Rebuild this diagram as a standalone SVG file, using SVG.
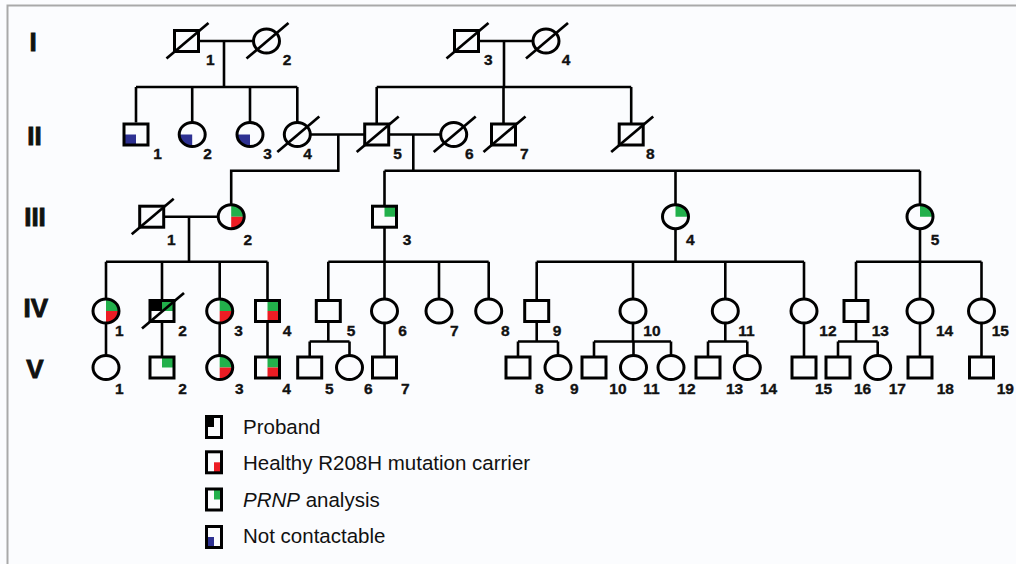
<svg xmlns="http://www.w3.org/2000/svg" width="1016" height="564" viewBox="0 0 1016 564">
<style>
.bg{fill:#fbfcfe}
.frame{stroke:#a9a9a9;stroke-width:2;fill:none}
.sym{fill:none;stroke:#000;stroke-width:3}
.ln{fill:none;stroke:#000;stroke-width:2.6}
.sl{stroke:#000;stroke-width:2.7}
.num{font-family:"Liberation Sans",Arial,sans-serif;font-weight:bold;font-size:15.5px;fill:#111;stroke:#111;stroke-width:0.35}
.gen{font-family:"Liberation Sans",Arial,sans-serif;font-weight:bold;font-size:26px;fill:#111;text-anchor:middle;stroke:#111;stroke-width:0.9}
.leg{font-family:"Liberation Sans",Arial,sans-serif;font-size:20.5px;fill:#111}
.g{fill:#22b04b}.r{fill:#ec1c24}.b{fill:#2e3192}.k{fill:#000}
</style>
<rect class="bg" x="0" y="0" width="1016" height="564"/>
<path class="frame" d="M7.5,564 V5.5 H1016"/>

<g id="generations">
<text class="gen" x="33.2" y="50.7">I</text>
<text class="gen" x="34.5" y="145">II</text>
<text class="gen" x="35" y="226">III</text>
<text class="gen" x="35.8" y="316.7">IV</text>
<text class="gen" x="35" y="377.7">V</text>
</g>

<g id="connectors" class="ln">
<path d="M198.5,41 H253.5 M224,41 V87 M136,87 H297.3 M136,87 V122.5 M192.2,87 V122.5 M250,87 V122.5 M297.3,87 V122.5"/>
<path d="M478.5,41 H533 M504,41 V87 M376.7,87 H631.2 M376.7,87 V124 M503.5,87 V124 M631.2,87 V124"/>
<path d="M310.3,134.5 H364.7 M338.3,134.5 V170.7 H231.2 V204.7"/>
<path d="M388.7,134.5 H440.7 M413.3,134.5 V170.7 M384.5,170.7 H920 M384.5,170.7 V206.2 M675.5,170.7 V204.7 M920,170.7 V204.7"/>
<path d="M163.7,216.7 H218.2 M189,216.7 V261.7 M106,261.7 H267.5 M106,261.7 V299 M162,261.7 V300.5 M219.7,261.7 V299 M267.5,261.7 V300.5"/>
<path d="M384.5,227.2 V261.7 M328.3,261.7 H488.7 M328.3,261.7 V300.5 M384.5,261.7 V299 M439,261.7 V299 M488.7,261.7 V299"/>
<path d="M675.5,228.7 V261.7 M536.7,261.7 H804 M536.7,261.7 V300.5 M633,261.7 V299 M725.3,261.7 V299 M804,261.7 V299"/>
<path d="M920,228.7 V261.7 M856,261.7 H981.5 M856,261.7 V300.5 M920,261.7 V299 M981.5,261.7 V299"/>
<path d="M106,323 V355.5 M162,321.5 V357 M219.7,323 V355.5 M267.5,321.5 V357"/>
<path d="M328.3,321.5 V341.5 M309.7,341.5 H349.5 M309.7,341.5 V357 M349.5,341.5 V355.5 M384.5,323 V357"/>
<path d="M536.7,321.5 V341.5 M518,341.5 H558 M518,341.5 V357 M558,341.5 V355.5"/>
<path d="M633,323 V341.5 M594,341.5 H671 M594,341.5 V357 M633.5,341.5 V355.5 M671,341.5 V355.5"/>
<path d="M725.3,323 V341.5 M708,341.5 H747.3 M708,341.5 V357 M747.3,341.5 V355.5 M804,323 V357"/>
<path d="M856,321.5 V341.5 M838,341.5 H877.7 M838,341.5 V357 M877.7,341.5 V355.5 M920,323 V357 M981.5,323 V357"/>
</g>

<g id="I-1"><rect class="sym" x="174.5" y="30.5" width="24" height="21"/><line class="sl" x1="166.5" y1="58.5" x2="208.5" y2="23"/><text class="num" x="206" y="65">1</text></g>
<g id="I-2"><ellipse class="sym" cx="266.5" cy="41" rx="13" ry="12"/><line class="sl" x1="246.5" y1="58.5" x2="288.5" y2="23"/><text class="num" x="282.7" y="65">2</text></g>
<g id="I-3"><rect class="sym" x="454.5" y="30.5" width="24" height="21"/><line class="sl" x1="446.5" y1="58.5" x2="488.5" y2="23"/><text class="num" x="484" y="65">3</text></g>
<g id="I-4"><ellipse class="sym" cx="546" cy="41" rx="13" ry="12"/><line class="sl" x1="526" y1="58.5" x2="568" y2="23"/><text class="num" x="561.7" y="65">4</text></g>

<g id="II-1"><rect class="b" x="124" y="134.5" width="12" height="10.5"/><rect class="sym" x="124" y="124" width="24" height="21"/><text class="num" x="153.3" y="159.3">1</text></g>
<g id="II-2"><path class="b" d="M192.2,134.5 V146.5 A13,12 0 0 1 179.2,134.5 Z"/><ellipse class="sym" cx="192.2" cy="134.5" rx="13" ry="12"/><text class="num" x="203.3" y="159.3">2</text></g>
<g id="II-3"><path class="b" d="M250,134.5 V146.5 A13,12 0 0 1 237,134.5 Z"/><ellipse class="sym" cx="250" cy="134.5" rx="13" ry="12"/><text class="num" x="263.3" y="159.3">3</text></g>
<g id="II-4"><ellipse class="sym" cx="297.3" cy="134.5" rx="13" ry="12"/><line class="sl" x1="277.3" y1="152" x2="319.3" y2="116.5"/><text class="num" x="303.3" y="159.3">4</text></g>
<g id="II-5"><rect class="sym" x="364.7" y="124" width="24" height="21"/><line class="sl" x1="356.7" y1="152" x2="398.7" y2="116.5"/><text class="num" x="393.3" y="159.3">5</text></g>
<g id="II-6"><ellipse class="sym" cx="453.7" cy="134.5" rx="13" ry="12"/><line class="sl" x1="433.7" y1="152" x2="475.7" y2="116.5"/><text class="num" x="465" y="159.3">6</text></g>
<g id="II-7"><rect class="sym" x="491.5" y="124" width="24" height="21"/><line class="sl" x1="483.5" y1="152" x2="525.5" y2="116.5"/><text class="num" x="520" y="159.3">7</text></g>
<g id="II-8"><rect class="sym" x="619.2" y="124" width="24" height="21"/><line class="sl" x1="611.2" y1="152" x2="653.2" y2="116.5"/><text class="num" x="646" y="159.3">8</text></g>

<g id="III-1"><rect class="sym" x="139.7" y="206.2" width="24" height="21"/><line class="sl" x1="131.7" y1="234.2" x2="173.7" y2="198.7"/><text class="num" x="167" y="245">1</text></g>
<g id="III-2"><path class="g" d="M231.2,216.7 V204.7 A13,12 0 0 1 244.2,216.7 Z"/><path class="r" d="M231.2,216.7 H244.2 A13,12 0 0 1 231.2,228.7 Z"/><ellipse class="sym" cx="231.2" cy="216.7" rx="13" ry="12"/><text class="num" x="243.5" y="245">2</text></g>
<g id="III-3"><rect class="g" x="384.5" y="206.2" width="12" height="10.5"/><rect class="sym" x="372.5" y="206.2" width="24" height="21"/><text class="num" x="402.7" y="245">3</text></g>
<g id="III-4"><path class="g" d="M675.5,216.7 V204.7 A13,12 0 0 1 688.5,216.7 Z"/><ellipse class="sym" cx="675.5" cy="216.7" rx="13" ry="12"/><text class="num" x="686" y="245">4</text></g>
<g id="III-5"><path class="g" d="M920,216.7 V204.7 A13,12 0 0 1 933,216.7 Z"/><ellipse class="sym" cx="920" cy="216.7" rx="13" ry="12"/><text class="num" x="930.7" y="245">5</text></g>

<g id="IV-1"><path class="g" d="M106,311 V299 A13,12 0 0 1 119,311 Z"/><path class="r" d="M106,311 H119 A13,12 0 0 1 106,323 Z"/><ellipse class="sym" cx="106" cy="311" rx="13" ry="12"/><text class="num" x="115" y="336">1</text></g>
<g id="IV-2"><rect class="k" x="150" y="300.5" width="12" height="10.5"/><rect class="g" x="162" y="300.5" width="12" height="10.5"/><rect class="sym" x="150" y="300.5" width="24" height="21"/><line class="sl" x1="142" y1="328.5" x2="184" y2="293"/><text class="num" x="178.3" y="336">2</text></g>
<g id="IV-3"><path class="g" d="M219.7,311 V299 A13,12 0 0 1 232.7,311 Z"/><path class="r" d="M219.7,311 H232.7 A13,12 0 0 1 219.7,323 Z"/><ellipse class="sym" cx="219.7" cy="311" rx="13" ry="12"/><text class="num" x="234.3" y="336">3</text></g>
<g id="IV-4"><rect class="g" x="267.5" y="300.5" width="12" height="10.5"/><rect class="r" x="267.5" y="311" width="12" height="10.5"/><rect class="sym" x="255.5" y="300.5" width="24" height="21"/><text class="num" x="282.7" y="336">4</text></g>
<g id="IV-5"><rect class="sym" x="316.3" y="300.5" width="24" height="21"/><text class="num" x="346.7" y="336">5</text></g>
<g id="IV-6"><ellipse class="sym" cx="384.5" cy="311" rx="13" ry="12"/><text class="num" x="398.3" y="336">6</text></g>
<g id="IV-7"><ellipse class="sym" cx="439" cy="311" rx="13" ry="12"/><text class="num" x="450" y="336">7</text></g>
<g id="IV-8"><ellipse class="sym" cx="488.7" cy="311" rx="13" ry="12"/><text class="num" x="501" y="336">8</text></g>
<g id="IV-9"><rect class="sym" x="524.7" y="300.5" width="24" height="21"/><text class="num" x="552.7" y="336">9</text></g>
<g id="IV-10"><ellipse class="sym" cx="633" cy="311" rx="13" ry="12"/><text class="num" x="643.3" y="336">10</text></g>
<g id="IV-11"><ellipse class="sym" cx="725.3" cy="311" rx="13" ry="12"/><text class="num" x="738.3" y="336">11</text></g>
<g id="IV-12"><ellipse class="sym" cx="804" cy="311" rx="13" ry="12"/><text class="num" x="819.3" y="336">12</text></g>
<g id="IV-13"><rect class="sym" x="844" y="300.5" width="24" height="21"/><text class="num" x="871.7" y="336">13</text></g>
<g id="IV-14"><ellipse class="sym" cx="920" cy="311" rx="13" ry="12"/><text class="num" x="936" y="336">14</text></g>
<g id="IV-15"><ellipse class="sym" cx="981.5" cy="311" rx="13" ry="12"/><text class="num" x="991.7" y="336">15</text></g>

<g id="V-1"><ellipse class="sym" cx="106" cy="367.5" rx="13" ry="12"/><text class="num" x="115" y="394">1</text></g>
<g id="V-2"><rect class="g" x="162" y="357" width="12" height="10.5"/><rect class="sym" x="150" y="357" width="24" height="21"/><text class="num" x="178.3" y="394">2</text></g>
<g id="V-3"><path class="g" d="M219.7,367.5 V355.5 A13,12 0 0 1 232.7,367.5 Z"/><path class="r" d="M219.7,367.5 H232.7 A13,12 0 0 1 219.7,379.5 Z"/><ellipse class="sym" cx="219.7" cy="367.5" rx="13" ry="12"/><text class="num" x="235" y="394">3</text></g>
<g id="V-4"><rect class="g" x="267.5" y="357" width="12" height="10.5"/><rect class="r" x="267.5" y="367.5" width="12" height="10.5"/><rect class="sym" x="255.5" y="357" width="24" height="21"/><text class="num" x="282.3" y="394">4</text></g>
<g id="V-5"><rect class="sym" x="297.7" y="357" width="24" height="21"/><text class="num" x="325" y="394">5</text></g>
<g id="V-6"><ellipse class="sym" cx="349.5" cy="367.5" rx="13" ry="12"/><text class="num" x="364" y="394">6</text></g>
<g id="V-7"><rect class="sym" x="372.5" y="357" width="24" height="21"/><text class="num" x="401" y="394">7</text></g>
<g id="V-8"><rect class="sym" x="506" y="357" width="24" height="21"/><text class="num" x="535" y="394">8</text></g>
<g id="V-9"><ellipse class="sym" cx="558" cy="367.5" rx="13" ry="12"/><text class="num" x="570" y="394">9</text></g>
<g id="V-10"><rect class="sym" x="582" y="357" width="24" height="21"/><text class="num" x="609.3" y="394">10</text></g>
<g id="V-11"><ellipse class="sym" cx="633.5" cy="367.5" rx="13" ry="12"/><text class="num" x="643.3" y="394">11</text></g>
<g id="V-12"><ellipse class="sym" cx="671" cy="367.5" rx="13" ry="12"/><text class="num" x="678.3" y="394">12</text></g>
<g id="V-13"><rect class="sym" x="696" y="357" width="24" height="21"/><text class="num" x="726" y="394">13</text></g>
<g id="V-14"><ellipse class="sym" cx="747.3" cy="367.5" rx="13" ry="12"/><text class="num" x="760" y="394">14</text></g>
<g id="V-15"><rect class="sym" x="792" y="357" width="24" height="21"/><text class="num" x="815" y="394">15</text></g>
<g id="V-16"><rect class="sym" x="826" y="357" width="24" height="21"/><text class="num" x="854" y="394">16</text></g>
<g id="V-17"><ellipse class="sym" cx="877.7" cy="367.5" rx="13" ry="12"/><text class="num" x="888.7" y="394">17</text></g>
<g id="V-18"><rect class="sym" x="908" y="357" width="24" height="21"/><text class="num" x="936.7" y="394">18</text></g>
<g id="V-19"><rect class="sym" x="969.5" y="357" width="24" height="21"/><text class="num" x="996.7" y="394">19</text></g>

<g id="legend">
<g id="legend-proband"><rect class="k" x="206.5" y="416.5" width="7.5" height="10.5"/><rect class="sym" x="206.5" y="416.5" width="15" height="21"/><text class="leg" x="243" y="434.3">Proband</text></g>
<g id="legend-carrier"><rect class="r" x="214" y="462.3" width="7.5" height="10.5"/><rect class="sym" x="206.5" y="451.8" width="15" height="21"/><text class="leg" x="243" y="470">Healthy R208H mutation carrier</text></g>
<g id="legend-prnp"><rect class="g" x="214" y="489" width="7.5" height="10.5"/><rect class="sym" x="206.5" y="489" width="15" height="21"/><text class="leg" x="243" y="507.3"><tspan font-style="italic">PRNP</tspan> analysis</text></g>
<g id="legend-nc"><rect class="b" x="206.5" y="537" width="7.5" height="10.5"/><rect class="sym" x="206.5" y="526.5" width="15" height="21"/><text class="leg" x="243" y="543.3">Not contactable</text></g>
</g>
</svg>
